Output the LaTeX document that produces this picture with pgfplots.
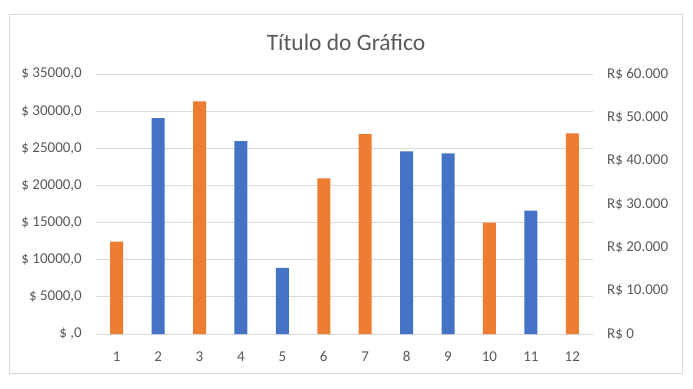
\documentclass[border=0pt]{standalone}
\usepackage{fontspec}
\setmainfont{Carlito}
\usepackage{pgfplots}
\pgfplotsset{compat=1.18}
\definecolor{txtgray}{HTML}{595959}
\definecolor{gridgray}{HTML}{D9D9D9}
\definecolor{xlblue}{HTML}{4472C4}
\definecolor{xlorange}{HTML}{ED7D31}
\begin{document}
\begin{tikzpicture}[x=1pt,y=1pt]
\useasboundingbox (0,0) rectangle (693,388);
\fill[white] (0,0) rectangle (693,388);
\draw[gridgray] (9,15) rectangle (682,374);
\node[text=txtgray, font=\fontsize{23.5}{28}\selectfont] at (346,346) {Título do Gráfico};
\begin{axis}[
  at={(96pt,54pt)}, anchor=south west,
  scale only axis, width=497pt, height=260pt,
  xmin=0.5, xmax=12.5, ymin=0, ymax=35000,
  scaled y ticks=false,
  axis lines*=left, axis line style={draw=none}, tick style={draw=none},
  ymajorgrids, grid style={gridgray, line width=0.8pt},
  ytick={0,5000,10000,15000,20000,25000,30000,35000},
  yticklabels={{\$ ,0},{\$ 5000,0},{\$ 10000,0},{\$ 15000,0},{\$ 20000,0},{\$ 25000,0},{\$ 30000,0},{\$ 35000,0}},
  xtick={1,2,3,4,5,6,7,8,9,10,11,12},
  xticklabels={1,2,3,4,5,6,7,8,9,10,11,12},
  ticklabel style={text=txtgray, font=\fontsize{15}{18}\selectfont, inner sep=0pt},
  yticklabel style={anchor=east, xshift=-14pt},
  xticklabel style={anchor=north, yshift=-13pt},
  ybar, bar width=13pt, bar shift=0pt,
]
\addplot[fill=xlblue, draw=none] coordinates {(2,29050) (4,25950) (5,8900) (8,24600) (9,24300) (11,16600)};
\end{axis}
\begin{axis}[
  at={(96pt,54pt)}, anchor=south west,
  scale only axis, width=497pt, height=260pt,
  xmin=0.5, xmax=12.5, ymin=0, ymax=60000,
  scaled y ticks=false,
  axis y line*=right, axis x line=none, axis line style={draw=none}, tick style={draw=none},
  xtick=\empty,
  ytick={0,10000,20000,30000,40000,50000,60000},
  yticklabels={{R\$ 0},{R\$ 10.000},{R\$ 20.000},{R\$ 30.000},{R\$ 40.000},{R\$ 50.000},{R\$ 60.000}},
  ticklabel style={text=txtgray, font=\fontsize{15}{18}\selectfont, inner sep=0pt},
  yticklabel style={anchor=west, xshift=14pt},
  ybar, bar width=13pt, bar shift=0pt,
]
\addplot[fill=xlorange, draw=none] coordinates {(1,21300) (3,53700) (6,35900) (7,46100) (10,25700) (12,46300)};
\end{axis}
\end{tikzpicture}
\end{document}
